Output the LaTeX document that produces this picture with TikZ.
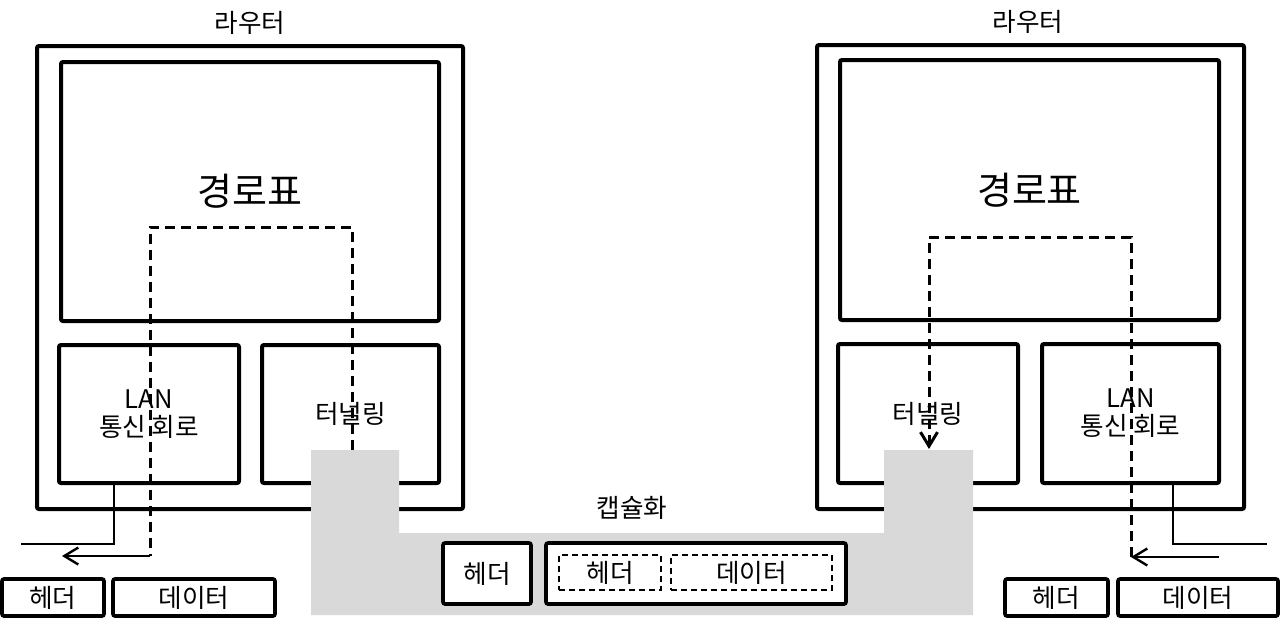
\documentclass[tikz,border=0pt]{standalone}
\usepackage{fontspec}
\setmainfont{Noto Sans CJK KR}
\usetikzlibrary{arrows.meta, positioning}
\tikzset{
  rbox/.style={draw, line width=2pt, rounded corners=1pt, inner sep=0pt},
  pbox/.style={draw, line width=1.8pt, rounded corners=1pt, fill=white, inner sep=0pt},
  ibox/.style={draw, line width=0.8pt, dash pattern=on 3pt off 2pt, inner sep=0pt},
  route/.style={line width=1.5pt, dash pattern=on 5pt off 3pt},
  wire/.style={line width=1.2pt},
  tip/.style={-{Straight Barb[length=7pt,width=8.5pt]}},
  big/.style={font=\fontsize{19}{21}\selectfont},
}

\begin{document}
\begin{tikzpicture}[x=0.5pt, y=-0.5pt, font=\fontsize{12.8}{14}\selectfont]
\useasboundingbox (0,0) rectangle (1280,628);

% left router
\node[rbox, minimum width=213pt, minimum height=231.5pt] (rL) at (250,277.5) {};
\node (tL) at (250,23) {라우터};
\node[rbox, big, minimum width=189pt, minimum height=129.5pt] (tabL) at (250,191.5) {경로표};
\node[rbox, minimum width=90pt, minimum height=69pt, align=center] (lanL) at (149,414) {LAN\\통신 회로};
\node[rbox, minimum width=88.5pt, minimum height=69pt] (tunL) at (350.5,414) {터널링};

% right router
\node[rbox, minimum width=213.5pt, minimum height=232pt] (rR) at (1030.5,277) {};
\node (tR) at (1028,22) {라우터};
\node[rbox, big, minimum width=189.5pt, minimum height=130pt] (tabR) at (1029.5,190) {경로표};
\node[rbox, minimum width=90pt, minimum height=69.5pt] (tunR) at (928,413.5) {터널링};
\node[rbox, minimum width=88.5pt, minimum height=69.5pt, align=center] (lanR) at (1130.5,413.5) {LAN\\통신 회로};

\coordinate (aL) at (352,450);
\coordinate (bL) at (352,227);
\coordinate (cL) at (150,227);
\coordinate (dL) at (150,556);
\coordinate (oL) at (62,556);
\coordinate (wL) at (21,544);
\draw[route] (aL) -- (bL) -- (cL) -- (dL);

\coordinate (aR) at (1131,557);
\coordinate (bR) at (1131,237);
\coordinate (cR) at (929,237);
\coordinate (dR) at (929,449);
\coordinate (oR) at (1219,557);
\coordinate (wR) at (1267,544);
\draw[route,tip] (aR) -- (bR) -- (cR) -- (dR);

% tunnel
\fill[black!15] (311,450) -- (399,450) -- (399,533) -- (884,533) -- (884,450)
  -- (973,450) -- (973,615) -- (311,615) -- cycle;
\node (cap) at (632,508) {캡슐화};

\draw[wire,tip] (dL) -- (oL);
\draw[wire] ([xshift=-17.5pt]lanL.south) |- (wL);
\draw[wire,tip] (oR) -- (aR);
\draw[wire] ([xshift=21.25pt]lanR.south) |- (wR);

% packets
\node[pbox, minimum width=44pt, minimum height=30.5pt] (hM) at (487,573.5) {헤더};
\node[pbox, minimum width=150pt, minimum height=30.5pt] (dM) at (696,573.5) {};
\node[ibox, minimum width=51pt, minimum height=17.5pt] (hI) at (610,572.5) {헤더};
\node[ibox, minimum width=80.5pt, minimum height=17.5pt] (dI) at (751.5,572.5) {데이터};

\node[pbox, minimum width=51pt, minimum height=18.5pt] (hL) at (53,597.5) {헤더};
\node[pbox, minimum width=81pt, minimum height=18.5pt] (pL) at (194,597.5) {데이터};
\node[pbox, minimum width=51.5pt, minimum height=18.5pt] (hR) at (1056.5,597.5) {헤더};
\node[pbox, minimum width=80pt, minimum height=18.5pt] (pR) at (1198,597.5) {데이터};
\end{tikzpicture}
\end{document}
